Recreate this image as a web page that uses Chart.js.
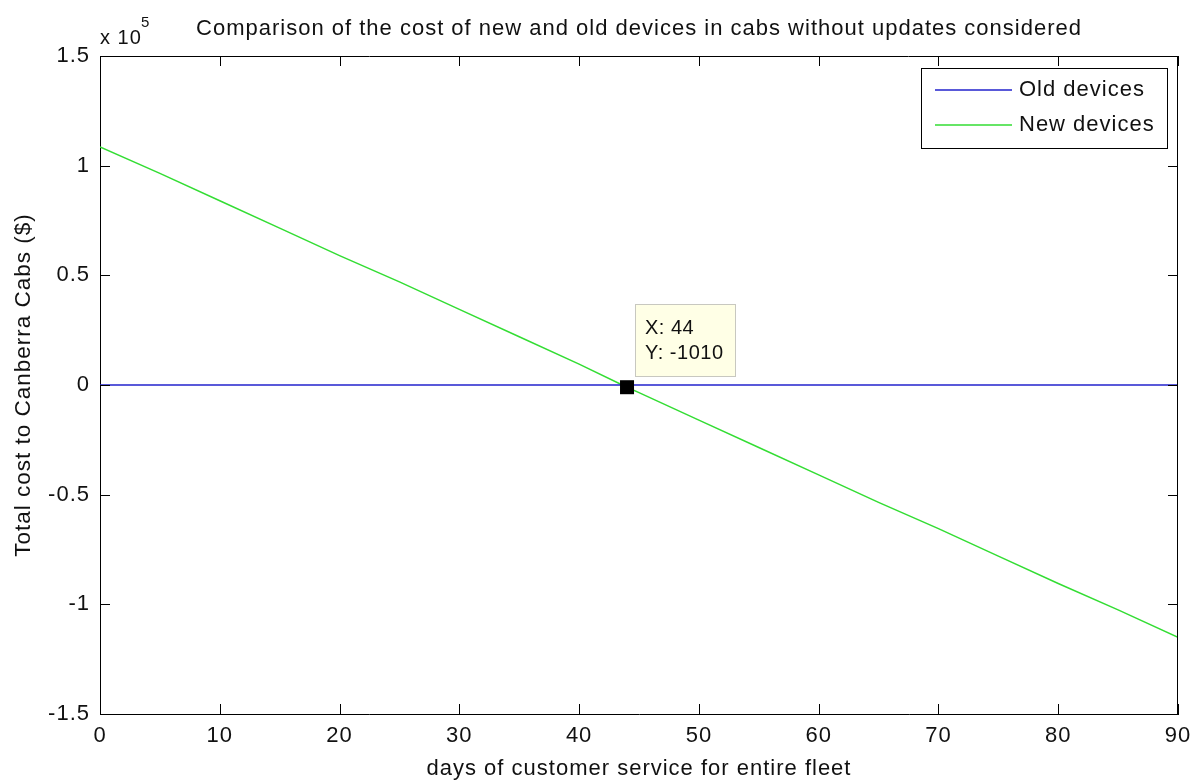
<!DOCTYPE html>
<html>
<head>
<meta charset="utf-8">
<script src="https://cdn.jsdelivr.net/npm/chart.js@4.4.1/dist/chart.umd.min.js"></script>
<style>
  html, body { margin: 0; background: #fff; }
  #wrap { width: 1195px; height: 782px; }
</style>
</head>
<body>
<div id="wrap"><canvas id="chart" width="1195" height="782"></canvas></div>
<script>
/*
  Cost comparison, old vs new cab devices (MATLAB-style figure redrawn in Chart.js)
*/

// data
const days    = [0, 5, 10, 15, 20, 25, 30, 35, 40, 44, 45, 50, 55, 60, 65, 70, 75, 80, 85, 90];
const oldCost = [0, 0, 0, 0, 0, 0, 0, 0, 0, 0, 0, 0, 0, 0, 0, 0, 0, 0, 0, 0];
const newCost = [108500, 96500, 84000, 71500, 59000, 47000, 34500, 22000, 9500, -1010, -3500,
                 -16000, -28500, -41000, -53500, -65500, -78000, -90500, -102500, -115000];
const xTicks  = [0, 10, 20, 30, 40, 50, 60, 70, 80, 90];
const yTicks  = [-150000, -100000, -50000, 0, 50000, 100000, 150000];
const seriesNames = ['Old devices', 'New devices'];
const tipDay = 44;
const tipCost = -1010;

const FONT = '"Liberation Sans", Arial, sans-serif';
const BLUE = '#2222cc';
const GREEN = '#33dd33';
const SPACING = '1px';

const pts = (ys) => days.map((d, i) => ({ x: d, y: ys[i] }));

// matlab fonts run wider than Arial; add a bit of letter spacing everywhere
const spacing = {
  id: 'spacing',
  beforeLayout(chart){ chart.ctx.letterSpacing = SPACING; },
  beforeDraw(chart){ chart.ctx.letterSpacing = SPACING; },
};

// box, inward ticks, legend, data tip, title
const matlabBits = {
  id: 'matlabBits',
  afterDraw(chart){
    const ctx = chart.ctx;
    const a = chart.chartArea;
    const xs = chart.scales.x, ys = chart.scales.y;
    ctx.save();
    ctx.strokeStyle = '#000';
    ctx.lineWidth = 1;
    ctx.beginPath();
    ctx.moveTo(a.left, a.top + 0.5); ctx.lineTo(a.right, a.top + 0.5);
    ctx.moveTo(a.right - 0.5, a.top); ctx.lineTo(a.right - 0.5, a.bottom);
    const tl = 10;
    xTicks.forEach(v => {
      const px = Math.round(xs.getPixelForValue(v)) + 0.5;
      ctx.moveTo(px, a.bottom); ctx.lineTo(px, a.bottom - tl);
      ctx.moveTo(px, a.top); ctx.lineTo(px, a.top + tl);
    });
    yTicks.forEach(v => {
      const py = Math.round(ys.getPixelForValue(v)) + 0.5;
      ctx.moveTo(a.left, py); ctx.lineTo(a.left + tl, py);
      ctx.moveTo(a.right, py); ctx.lineTo(a.right - tl, py);
    });
    ctx.stroke();

    // legend
    const lx = 921, ly = 68, lw = 246, lh = 80;
    ctx.fillStyle = '#fff';
    ctx.fillRect(lx, ly, lw, lh);
    ctx.strokeRect(lx + 0.5, ly + 0.5, lw, lh);
    const cols = [BLUE, GREEN];
    ctx.font = `22px ${FONT}`;
    ctx.textBaseline = 'middle';
    seriesNames.forEach((n, i) => {
      const y = ly + 22 + i * 35;
      ctx.strokeStyle = cols[i];
      ctx.lineWidth = 1.5;
      ctx.beginPath(); ctx.moveTo(lx + 14, y); ctx.lineTo(lx + 91, y); ctx.stroke();
      ctx.fillStyle = '#111';
      ctx.fillText(n, lx + 98, y);
    });

    // data tip
    const px = xs.getPixelForValue(tipDay), py = ys.getPixelForValue(tipCost);
    ctx.fillStyle = '#000';
    ctx.fillRect(px - 7, py - 7, 14, 14);
    const bx = px + 8, by = py - 83;
    ctx.fillStyle = '#ffffe6';
    ctx.fillRect(bx, by, 100, 72);
    ctx.strokeStyle = '#c8c8c0';
    ctx.lineWidth = 1;
    ctx.strokeRect(Math.round(bx) + 0.5, Math.round(by) + 0.5, 100, 72);
    ctx.fillStyle = '#111';
    ctx.font = `20px ${FONT}`;
    ctx.letterSpacing = '0.5px';
    ctx.fillText(`X: ${tipDay}`, px + 18, py - 59);
    ctx.fillText(`Y: ${tipCost}`, px + 18, py - 34);
    ctx.letterSpacing = SPACING;

    // title + exponent
    ctx.textBaseline = 'alphabetic';
    ctx.textAlign = 'center';
    ctx.font = `22px ${FONT}`;
    ctx.fillText('Comparison of the cost of new and old devices in cabs without updates considered', (a.left + a.right) / 2, 35);
    ctx.textAlign = 'left';
    ctx.font = `20px ${FONT}`;
    ctx.fillText('x 10', a.left, 44);
    ctx.font = `15px ${FONT}`;
    ctx.fillText('5', a.left + 41, 27);
    ctx.restore();
  }
};

new Chart(document.getElementById('chart').getContext('2d'), {
  type: 'line',
  data: {
    datasets: [
      { label: seriesNames[0], data: pts(oldCost), borderColor: BLUE, borderWidth: 1.5, pointRadius: 0, tension: 0 },
      { label: seriesNames[1], data: pts(newCost), borderColor: GREEN, borderWidth: 1.5, pointRadius: 0, tension: 0 },
    ]
  },
  options: {
    responsive: false,
    animation: false,
    layout: { padding: { top: 56, right: 17, left: 0, bottom: 0 } },
    plugins: {
      legend: { display: false },
      tooltip: { enabled: false },
      title: { display: false },
    },
    scales: {
      x: {
        type: 'linear', min: 0, max: 90,
        afterBuildTicks: (s) => { s.ticks = xTicks.map(v => ({ value: v })); },
        afterFit: (s) => { s.height = 68; s.paddingLeft = 0; s.paddingRight = 0; },
        grid: { display: false, drawTicks: false },
        border: { display: true, color: '#000', width: 1 },
        ticks: { color: '#111', font: { family: FONT, size: 22 }, padding: 9, maxRotation: 0, autoSkip: false },
        title: { display: true, text: 'days of customer service for entire fleet', color: '#111',
                 font: { family: FONT, size: 22 }, padding: { top: 6, bottom: 0 } },
      },
      y: {
        type: 'linear', min: -150000, max: 150000,
        afterBuildTicks: (s) => { s.ticks = yTicks.map(v => ({ value: v })); },
        afterFit: (s) => { s.width = 100; s.paddingTop = 0; s.paddingBottom = 0; },
        grid: { display: false, drawTicks: false },
        border: { display: true, color: '#000', width: 1 },
        ticks: { color: '#111', font: { family: FONT, size: 22 }, padding: 10,
                 callback: (v) => String(v / 100000) },
        title: { display: true, text: 'Total cost to Canberra Cabs ($)', color: '#111',
                 font: { family: FONT, size: 22.5 }, padding: { top: 10, bottom: 0 } },
      }
    }
  },
  plugins: [spacing, matlabBits]
});
</script>
</body>
</html>
